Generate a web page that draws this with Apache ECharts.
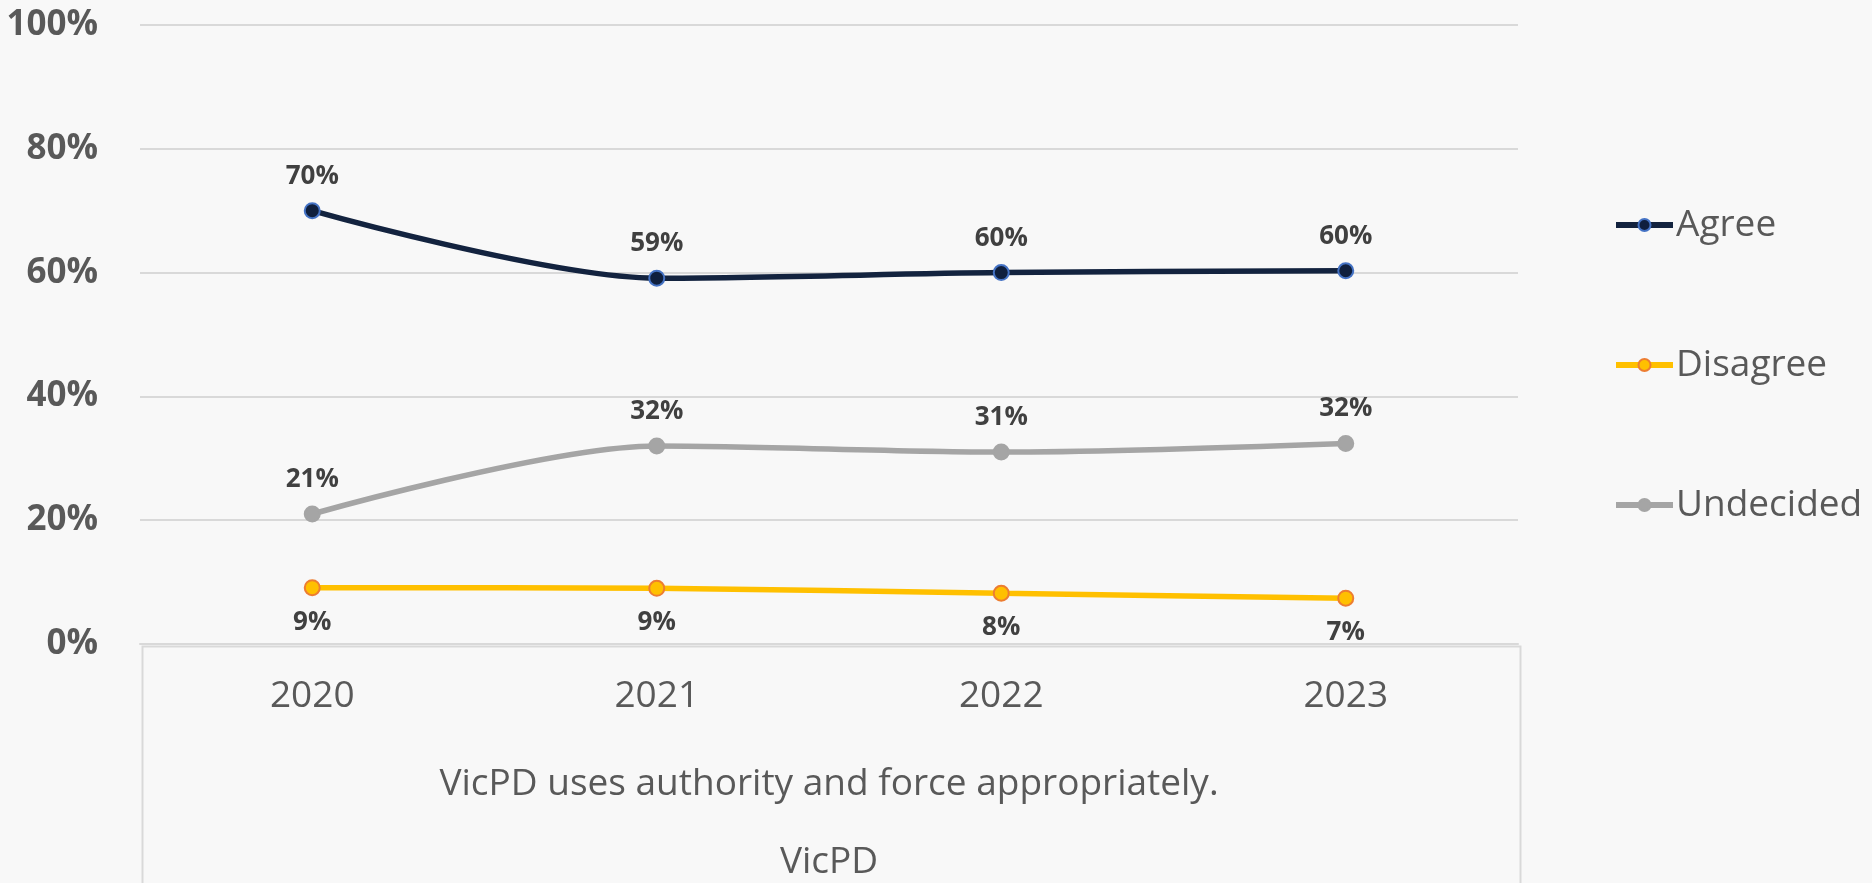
<!DOCTYPE html>
<html>
<head>
<meta charset="utf-8">
<script src="https://cdn.jsdelivr.net/npm/echarts@6/dist/echarts.min.js"></script>
<style>
html,body{margin:0;padding:0;background:#f8f8f8;}
#chart{width:1872px;height:883px;}
</style>
</head>
<body>
<div id="chart"></div>
<script>
const categories = ['2020', '2021', '2022', '2023'];
const agree = [70.0, 59.1, 60.0, 60.3];
const disagree = [9.1, 9.0, 8.2, 7.4];
const undecided = [21.0, 32.0, 31.0, 32.4];
const seriesNames = ['Agree', 'Disagree', 'Undecided'];
const axisTitle = 'VicPD uses authority and force appropriately.';
const axisGroup = 'VicPD';

const FONT = '"Open Sans", "Noto Sans", sans-serif';
const GRID = {left: 140, right: 354, top: 25, bottom: 239, containLabel: false, outerBoundsMode: 'none'};

const chart = echarts.init(document.getElementById('chart'), null, {renderer: 'canvas'});

function mkSeries(name, data, lineColor, fill, border, labelPos) {
  return {
    name: name,
    type: 'line',
    data: data,
    smooth: 0.3,
    smoothConstraint: false,
    symbol: 'circle',
    symbolSize: 15,
    lineStyle: {color: lineColor, width: 5.5},
    itemStyle: {color: fill, borderColor: border, borderWidth: 2},
    label: {
      show: true,
      position: labelPos,
      distance: 13,
      formatter: p => Math.round(p.value) + '%',
      fontFamily: FONT,
      fontSize: 26,
      fontWeight: 'bold',
      color: '#404040'
    },
    emphasis: {disabled: true}
  };
}

const option = {
  backgroundColor: '#f8f8f8',
  animation: false,
  grid: GRID,
  legend: {
    orient: 'vertical',
    left: 1608,
    top: 199,
    itemWidth: 57,
    itemHeight: 15,
    itemGap: 98,
    data: seriesNames,
    lineStyle: {width: 6},
    textStyle: {fontFamily: FONT, fontSize: 37, color: '#595959', lineHeight: 42, padding: [0, 0, 0, -2]}
  },
  xAxis: {
    type: 'category',
    data: categories,
    boundaryGap: true,
    axisLine: {show: true, lineStyle: {color: '#d9d9d9', width: 2}},
    axisTick: {show: false},
    axisLabel: {fontFamily: FONT, fontSize: 37, color: '#595959', margin: 34},
    name: axisTitle + '\n' + axisGroup,
    nameLocation: 'middle',
    nameGap: 101,
    nameTextStyle: {fontFamily: FONT, fontSize: 37, color: '#595959', lineHeight: 78}
  },
  yAxis: {
    type: 'value',
    min: 0,
    max: 100,
    interval: 20,
    axisLine: {show: false},
    axisTick: {show: false},
    splitLine: {lineStyle: {color: '#d9d9d9', width: 2}},
    axisLabel: {formatter: '{value}%', fontFamily: FONT, fontSize: 35, fontWeight: 'bold', color: '#595959', margin: 42}
  },
  graphic: [{
    type: 'rect',
    left: GRID.left,
    top: 883 - GRID.bottom,
    shape: {width: 1872 - GRID.left - GRID.right, height: 300},
    style: {fill: 'none', stroke: '#d9d9d9', lineWidth: 2},
    silent: true
  }],
  series: [
    mkSeries(seriesNames[0], agree, '#13233f', '#0f1f3d', '#4472c4', 'top'),
    mkSeries(seriesNames[1], disagree, '#ffc000', '#ffc000', '#ed7d31', 'bottom'),
    mkSeries(seriesNames[2], undecided, '#a5a5a5', '#a5a5a5', '#a5a5a5', 'top')
  ]
};
chart.setOption(option);
</script>
</body>
</html>
